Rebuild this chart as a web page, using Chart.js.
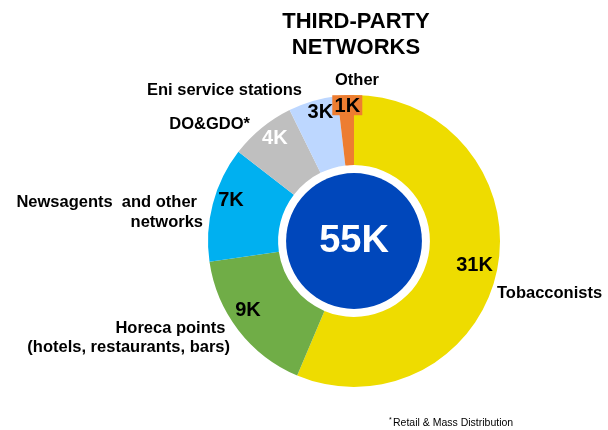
<!DOCTYPE html>
<html>
<head>
<meta charset="utf-8">
<script src="https://cdn.jsdelivr.net/npm/chart.js@4.4.1/dist/chart.umd.min.js"></script>
<style>
  html, body { margin: 0; padding: 0; background: #fff; }
  #wrap { width: 608px; height: 430px; }
</style>
</head>
<body>
<div id="wrap"><canvas id="donut" width="608" height="430"></canvas></div>
<script>
const categories = ['Tobacconists', 'Horeca points', 'Newsagents and other networks', 'DO&GDO*', 'Eni service stations', 'Other'];
const values = [31, 9, 7, 4, 3, 1];
const valueLabels = ['31K', '9K', '7K', '4K', '3K', '1K'];
const totalLabel = '55K';
const colors = ['#EEDC00', '#70AD47', '#00B0F0', '#BFBFBF', '#BDD7FF', '#ED7D31'];
const valueColors = ['#000', '#000', '#000', '#fff', '#000', '#000'];

// label layout: radius from centre, extra nudge
const valuePos = [
  { r: 123, dx: 0, dy: 0 },
  { r: 120, dx: -11, dy: -4 },
  { r: 120, dx: -7, dy: -10 },
  { r: 133, dx: 5, dy: 0 },
  { r: 130, dx: 3, dy: -4 },
  { r: 135, dx: 1, dy: 0 }
];
// category text, relative to chart centre
const catText = [
  { lines: ['Tobacconists'], x: 143, y: 52, align: 'left' },
  { lines: ['Horeca points ', '(hotels, restaurants, bars)'], x: -124, y: 87, align: 'right' },
  { lines: ['Newsagents  and other', 'networks'], x: -157, y: -39, align: 'right' },
  { lines: ['DO&GDO*'], x: -104, y: -117, align: 'right' },
  { lines: ['Eni service stations'], x: -52, y: -151, align: 'right' },
  { lines: ['Other'], x: 3, y: -161, align: 'center' }
];
const catLineGap = [0, 19, 20, 0, 0, 0];
const catAlignFix = [0, 0, 6, 0, 0, 0];

const FONT = '"Liberation Sans", Arial, sans-serif';

const labelPlugin = {
  id: 'labels',
  afterDatasetsDraw(chart) {
    const ctx = chart.ctx;
    const meta = chart.getDatasetMeta(0);
    const first = meta.data[0];
    const cx = first.x, cy = first.y;

    // centre disc
    ctx.save();
    ctx.beginPath();
    ctx.arc(cx, cy, first.innerRadius - 8, 0, Math.PI * 2);
    ctx.fillStyle = '#0047BB';
    ctx.fill();
    ctx.fillStyle = '#fff';
    ctx.font = 'bold 38px ' + FONT;
    ctx.textAlign = 'center';
    ctx.textBaseline = 'middle';
    ctx.fillText(totalLabel, cx, cy + 1);

    // value labels
    ctx.font = 'bold 20px ' + FONT;
    meta.data.forEach((arc, i) => {
      const mid = (arc.startAngle + arc.endAngle) / 2;
      const p = valuePos[i];
      const x = cx + Math.cos(mid) * p.r + p.dx;
      const y = cy + Math.sin(mid) * p.r + p.dy;
      if (i === values.length - 1) {
        ctx.fillStyle = colors[i];
        ctx.fillRect(x - 15, y - 11, 30, 20);
      }
      ctx.fillStyle = valueColors[i];
      ctx.fillText(valueLabels[i], x, y);
    });

    // category labels
    ctx.font = 'bold 16.5px ' + FONT;
    ctx.fillStyle = '#000';
    catText.forEach((c, i) => {
      ctx.textAlign = c.align;
      c.lines.forEach((line, j) => {
        const x = cx + c.x + (j > 0 ? catAlignFix[i] : 0);
        ctx.fillText(line, x, cy + c.y + j * catLineGap[i]);
      });
    });

    // title
    ctx.textAlign = 'center';
    ctx.font = 'bold 22px ' + FONT;
    ctx.fillText('THIRD-PARTY', cx + 2, 22);
    ctx.fillText('NETWORKS', cx + 2, 48);

    // footnote, with a raised asterisk
    ctx.textAlign = 'left';
    ctx.font = '7px ' + FONT;
    ctx.fillText('*', 389, 420);
    ctx.font = '10.5px ' + FONT;
    ctx.fillText('Retail & Mass Distribution', 393, 423);
    ctx.restore();
  }
};

new Chart(document.getElementById('donut'), {
  type: 'doughnut',
  data: {
    labels: categories,
    datasets: [{
      data: values,
      backgroundColor: colors,
      borderWidth: 0
    }]
  },
  options: {
    responsive: false,
    animation: false,
    cutout: '52%',
    layout: { padding: { left: 208, right: 108, top: 95, bottom: 43 } },
    plugins: {
      legend: { display: false },
      tooltip: { enabled: false }
    }
  },
  plugins: [labelPlugin]
});
</script>
</body>
</html>
